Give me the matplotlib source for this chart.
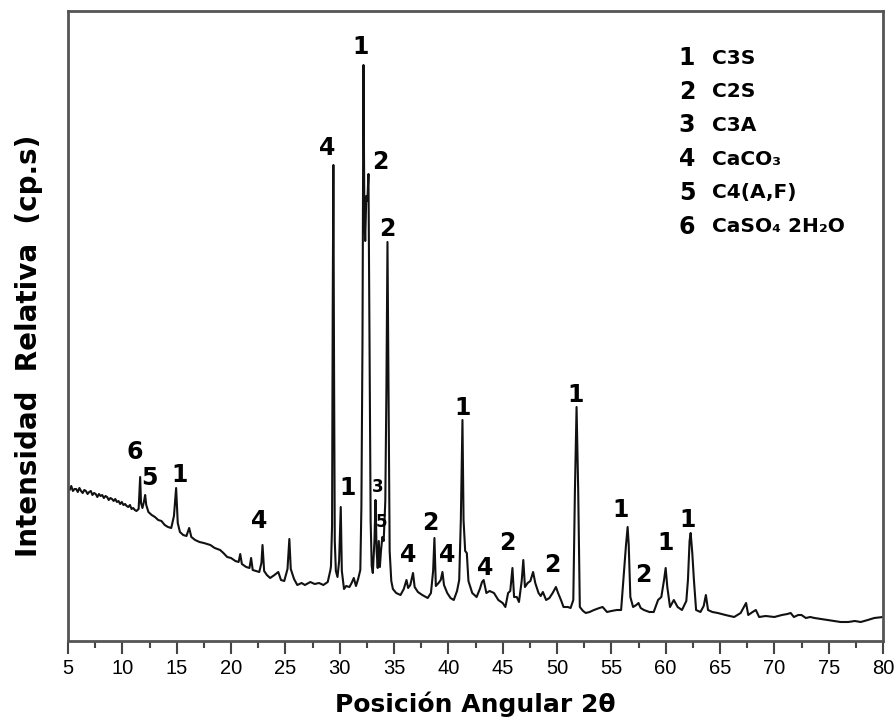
import matplotlib
matplotlib.use('Agg')
import matplotlib.pyplot as plt
from matplotlib import font_manager

# XRD trace of the cement sample, read point by point (2theta in degrees, relative counts)
two_theta = [
    5.0, 5.15, 5.3, 5.45, 5.6, 5.75, 5.9, 6.05, 6.2, 6.35, 6.5, 6.65, 6.8, 6.95, 7.1,
    7.25, 7.4, 7.55, 7.7, 7.85, 8.0, 8.15, 8.3, 8.45, 8.6, 8.75, 8.9, 9.05, 9.2, 9.35,
    9.5, 9.65, 9.8, 9.95, 10.1, 10.25, 10.4, 10.55, 10.7, 10.85, 11.0, 11.15, 11.3,
    11.5, 11.58, 11.64, 11.72, 11.85, 12.0, 12.1, 12.2,
    12.4, 12.7, 13.0, 13.3, 13.6, 13.9, 14.2, 14.5, 14.75, 14.95, 15.1, 15.3, 15.6,
    15.9, 16.15, 16.35, 16.7, 17.1, 17.5, 18.1, 18.5, 19.0, 19.3, 19.65, 20.0, 20.4,
    20.7, 20.85, 21.0, 21.4, 21.7, 21.85, 22.0, 22.3, 22.6, 22.8, 22.9, 23.05, 23.3,
    23.6, 24.0, 24.35, 24.6, 24.9, 25.2, 25.37, 25.5, 25.8, 26.1, 26.5, 26.8, 27.3,
    27.7, 28.1, 28.5, 28.9, 29.15, 29.2, 29.3, 29.36, 29.42, 29.48, 29.55, 29.65,
    29.8, 29.95, 30.1, 30.2, 30.4, 30.6, 30.9, 31.1, 31.3, 31.5, 31.7, 31.9, 32.0,
    32.1, 32.19, 32.27, 32.35, 32.45, 32.55, 32.65, 32.75, 32.85, 32.95, 33.05, 33.2,
    33.3, 33.4, 33.5, 33.6, 33.7, 33.8, 33.93, 34.05, 34.2, 34.3, 34.4, 34.5, 34.6,
    34.75, 34.9, 35.2, 35.6, 35.9, 36.15, 36.3, 36.5, 36.75, 36.9, 37.2, 37.6, 38.1,
    38.4, 38.6, 38.72, 38.85, 39.1, 39.3, 39.46, 39.6, 39.9, 40.2, 40.5, 40.8, 41.0,
    41.15, 41.3, 41.4, 41.55, 41.7, 41.85, 42.2, 42.6, 42.9, 43.1, 43.25, 43.5, 43.8,
    44.2, 44.6, 45.0, 45.25, 45.5, 45.7, 45.9, 46.05, 46.3, 46.5, 46.75, 46.9, 47.05,
    47.3, 47.55, 47.8, 48.0, 48.3, 48.5, 48.7, 49.0, 49.3, 49.6, 49.9, 50.1, 50.4,
    50.6, 51.0, 51.25, 51.5, 51.65, 51.8, 51.95, 52.1, 52.4, 52.65, 53.0, 53.4, 53.9,
    54.2, 54.6, 55.0, 55.5, 55.9, 56.2, 56.35, 56.5, 56.6, 56.75, 57.0, 57.3, 57.5,
    57.7, 58.0, 58.5, 58.9, 59.3, 59.6, 59.85, 60.0, 60.15, 60.4, 60.75, 61.1, 61.5,
    61.9, 62.05, 62.2, 62.3, 62.45, 62.6, 62.8, 63.2, 63.5, 63.7, 63.9, 64.3, 64.8,
    65.5, 66.3, 66.9, 67.4, 67.6, 68.0, 68.3, 68.6, 69.2, 70.0, 70.7, 71.2, 71.5,
    71.8, 72.2, 72.5, 72.9, 73.3, 73.7, 74.3, 74.9, 75.5, 76.1, 76.8, 77.4, 77.95,
    78.6, 79.2, 80.0,
]
counts = [
    153, 151, 155, 150, 152, 152, 149, 153, 150, 148, 151, 150, 147, 149, 150,
    146, 148, 147, 144, 147, 145, 146, 143, 145, 144, 141, 143, 142, 140, 142,
    139, 140, 137, 139, 136, 137, 135, 134, 136, 132, 133, 131, 130,
    132, 150, 164, 138, 133, 140, 146, 136,
    129, 126, 124, 121, 120, 116, 114, 113, 125, 153, 118, 109, 106,
    105, 113, 104, 101, 99, 98, 96, 93, 91, 88, 84, 83, 80,
    79, 87, 77, 74, 73, 83, 71, 70, 69, 78, 96, 70, 66,
    63, 66, 69, 61, 60, 72, 102, 72, 62, 56, 58, 56, 59,
    57, 58, 56, 59, 71, 75, 115, 330, 476, 280, 100, 70,
    64, 80, 134, 70, 52, 55, 54, 58, 63, 55, 62, 71, 134,
    300, 576, 430, 400, 445, 440, 467, 290, 120, 75, 68, 100,
    141, 90, 73, 100, 74, 90, 104, 100, 140, 250, 399, 250, 90,
    60, 52, 48, 46, 52, 61, 53, 56, 68, 54, 49, 46, 43,
    48, 70, 103, 55, 58, 61, 69, 56, 48, 43, 41, 50, 61,
    121, 221, 121, 90, 88, 60, 48, 44, 52, 59, 61, 48, 50,
    48, 41, 38, 34, 48, 50, 73, 44, 44, 39, 60, 81, 54,
    58, 60, 69, 58, 48, 45, 49, 41, 43, 48, 54, 48, 40,
    34, 34, 33, 41, 151, 234, 151, 34, 30, 28, 29, 31, 33,
    34, 29, 30, 31, 31, 74, 96, 114, 96, 44, 34, 36, 38,
    33, 31, 29, 29, 41, 44, 61, 73, 54, 34, 41, 34, 31,
    40, 61, 100, 108, 88, 61, 31, 29, 35, 46, 31, 29, 28,
    26, 24, 28, 38, 26, 29, 31, 24, 25, 24, 26, 27, 28,
    24, 26, 26, 23, 24, 23, 22, 21, 20, 19, 19, 20, 19,
    21, 23, 24,
]

# phase number placed over each identified reflection
peak_tags = ['6', '5', '1', '4', '4', '1', '1', '2', '2', '4', '2', '4', '1',
             '4', '2', '2', '1', '1', '2', '1', '1']
tag_x = [11.17, 12.46, 15.23, 22.6, 28.86, 30.7, 31.9, 33.75, 34.4, 36.33, 38.35,
         39.92, 41.3, 43.42, 45.45, 49.6, 51.71, 55.86, 57.9, 60.0, 62.03]
tag_y = [189, 163, 166, 120, 493, 153, 594, 479, 412, 86, 118,
         86, 233, 73, 98, 76, 246, 131, 66, 98, 121]
# the two crowded tags beside the 33 degree cluster use a smaller font
small_tags = ['3', '5']
small_x = [33.47, 33.84]
small_y = [154, 119]

phase_ids = ['1', '2', '3', '4', '5', '6']
phase_names = ['C3S', 'C2S', 'C3A', 'CaCO₃', 'C4(A,F)', 'CaSO₄ 2H₂O']

# narrow face for the tick numbers if one is around
installed = {f.name for f in font_manager.fontManager.ttflist}
narrow = [n for n in ['Liberation Sans Narrow', 'Arial Narrow'] if n in installed]
if narrow:
    tick_font = font_manager.FontProperties(family=narrow[0], size=15)
else:
    tick_font = font_manager.FontProperties(family='Liberation Sans', stretch='condensed', size=14.5)

fig = plt.figure(figsize=(8.96, 7.24), dpi=100)
ax = fig.add_axes([68 / 896, 1 - 641 / 724, 815 / 896, 630 / 724])

ax.plot(two_theta, counts, color='#111111', lw=1.5)

ax.set_xlim(5, 80)
ax.set_ylim(0, 630)
ax.set_xticks(range(5, 81, 5))
ax.set_xticks([x + 2.5 for x in range(5, 80, 5)], minor=True)
ax.set_yticks([])
ax.tick_params(axis='x', which='major', direction='out', length=9, width=1.5,
               color='#444444', pad=4)
ax.tick_params(axis='x', which='minor', direction='out', length=5, width=1.5,
               color='#444444')
for lab in ax.get_xticklabels():
    lab.set_fontproperties(tick_font)
for sp in ax.spines.values():
    sp.set_color('#555555')
    sp.set_linewidth(2)

for t, x, y in zip(peak_tags, tag_x, tag_y):
    ax.text(x, y, t, fontsize=17, fontweight='bold', ha='center', va='center')
for t, x, y in zip(small_tags, small_x, small_y):
    ax.text(x, y, t, fontsize=12, fontweight='bold', ha='center', va='center')

# phase key in the upper right corner
for i, (pid, name) in enumerate(zip(phase_ids, phase_names)):
    ypix = 58 + i * 33.7
    fig.text(687 / 896, 1 - ypix / 724, pid, fontsize=17, fontweight='bold',
             ha='center', va='center')
    fig.text(712 / 896, 1 - ypix / 724, name, fontsize=14.5, fontweight='bold',
             ha='left', va='center')

ax.set_xlabel('Posición Angular 2θ', fontsize=18, fontweight='heavy', labelpad=10)
fig.text(29 / 896, 1 - 346 / 724, 'Intensidad  Relativa  (cp.s)', fontsize=20,
         fontweight='bold', rotation=90, ha='center', va='center')

fig.savefig('out.png', dpi=100)
